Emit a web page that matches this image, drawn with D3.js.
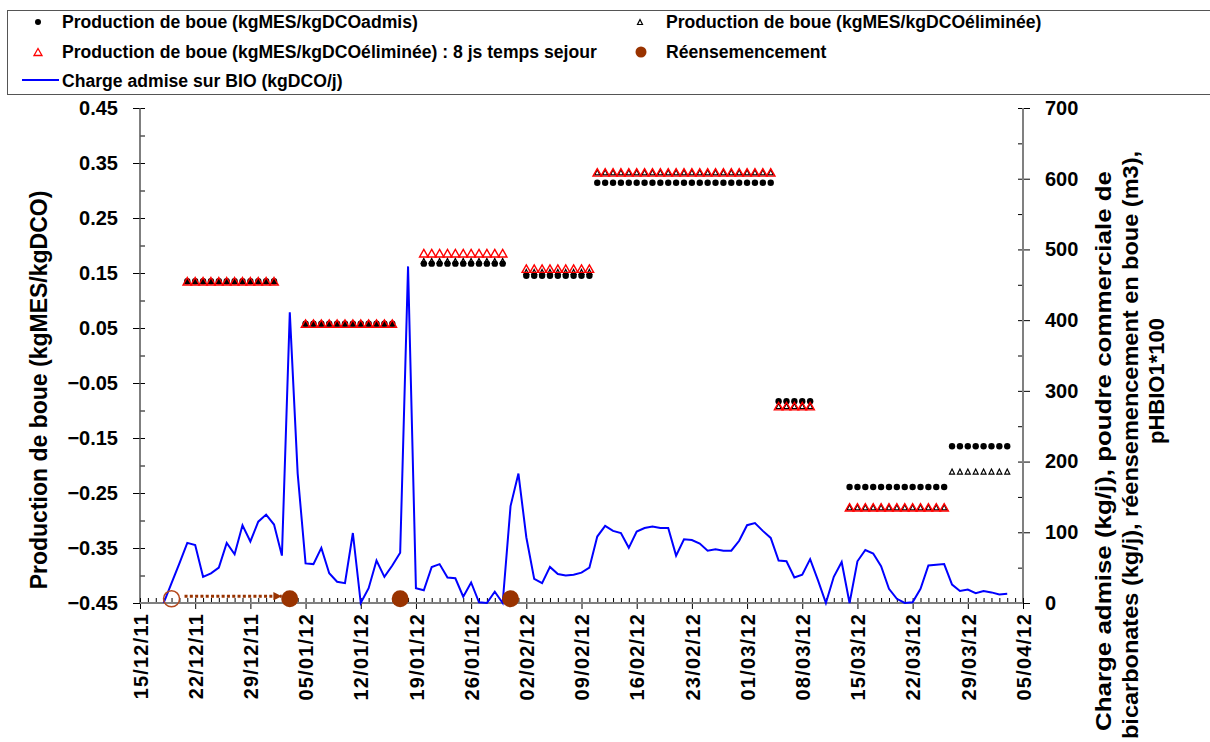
<!DOCTYPE html>
<html>
<head>
<meta charset="utf-8">
<script src="https://cdn.jsdelivr.net/npm/d3@7"></script>
<style>
  body { margin: 0; background: #fff; }
  text { font-family: "Liberation Sans", Arial, sans-serif; font-weight: bold; fill: #000; }
</style>
</head>
<body>
<svg id="chart" width="1210" height="742"></svg>
<script>
// ---- data ----
const xTickLabels = ["15/12/11","22/12/11","29/12/11","05/01/12","12/01/12","19/01/12","26/01/12",
  "02/02/12","09/02/12","16/02/12","23/02/12","01/03/12","08/03/12","15/03/12","22/03/12","29/03/12","05/04/12"];

// daily admitted load on BIO (kgDCO/j), first value on 18/12/11
const chargeStart = "18/12/11";
const chargeAdmise = [0, 28, 56, 85, 82, 37, 42, 50, 85, 69, 110, 87, 115, 125, 111, 67, 411, 183, 56, 55,
  78, 42, 30, 28, 99, 0, 21, 60, 37, 53, 71, 476, 21, 18, 51, 55, 36, 35, 9, 29,
  1, 0, 16, 0, 137, 183, 93, 34, 28, 51, 41, 39, 40, 43, 50, 94, 109, 102, 99, 78,
  101, 106, 108, 106, 106, 67, 90, 89, 84, 74, 76, 74, 74, 88, 110, 113, 102, 92, 60, 59,
  36, 40, 62, 32, 0, 37, 58, 0, 59, 75, 70, 52, 20, 6, 0, 1, 20, 53, 54, 55,
  26, 17, 19, 14, 17, 15, 12, 13];

// sludge production plateaus: [first day, last day, value] — one marker per day
const periodStart = ["21/12/11","05/01/12","20/01/12","02/02/12","11/02/12","05/03/12","14/03/12","27/03/12"];
const periodEnd   = ["01/01/12","16/01/12","30/01/12","10/02/12","04/03/12","09/03/12","26/03/12","03/04/12"];
const prodAdmis   = [0.135, 0.058, 0.167, 0.145, 0.314, -0.083, -0.239, -0.165];
const prodElim    = [0.135, 0.058, 0.172, 0.152, 0.333, -0.092, -0.276, -0.211];
const prodElim8j  = [0.135, 0.058, 0.186, 0.158, 0.333, -0.092, -0.276];

// reseeding events (right axis, m3)
const reensDates  = ["03/01/12","17/01/12","31/01/12"];
const reensValues = [6, 6, 6];
const reensPlannedDate = "19/12/11";
const reensPlannedValue = 6;

// ---- setup ----
const parse = d3.utcParse("%d/%m/%y");
const svg = d3.select("#chart");
const brown = "#993300";

const x = d3.scaleUtc().domain([parse("15/12/11"), parse("05/04/12")]).range([140, 1023]);
const yL = d3.scaleLinear().domain([-0.45, 0.45]).range([603, 108]);
const yR = d3.scaleLinear().domain([0, 700]).range([603, 108]);

// ---- legend ----
const legend = svg.append("g");
legend.append("rect").attr("x", 7.5).attr("y", 10.5).attr("width", 1210).attr("height", 84)
  .attr("fill", "#fff").attr("stroke", "#555").attr("stroke-width", 1);

function triPath(w, h) {
  return `M0,${-h / 2}L${w / 2},${h / 2}L${-w / 2},${h / 2}Z`;
}

const legendFont = 17.6;
legend.append("circle").attr("cx", 38).attr("cy", 22).attr("r", 3).attr("fill", "#000");
legend.append("text").attr("x", 62).attr("y", 28).attr("font-size", legendFont)
  .text("Production de boue (kgMES/kgDCOadmis)");
legend.append("path").attr("d", triPath(5, 5)).attr("transform", "translate(640,22)")
  .attr("fill", "none").attr("stroke", "#000").attr("stroke-width", 1.2);
legend.append("text").attr("x", 666).attr("y", 28).attr("font-size", legendFont)
  .text("Production de boue (kgMES/kgDCOéliminée)");
legend.append("path").attr("d", triPath(8, 7)).attr("transform", "translate(38,52)")
  .attr("fill", "none").attr("stroke", "#ff0000").attr("stroke-width", 1.3);
legend.append("text").attr("x", 62).attr("y", 57.5).attr("font-size", legendFont)
  .text("Production de boue (kgMES/kgDCOéliminée) : 8 js temps sejour");
legend.append("circle").attr("cx", 641).attr("cy", 52).attr("r", 5.5).attr("fill", brown);
legend.append("text").attr("x", 666).attr("y", 57.5).attr("font-size", legendFont)
  .text("Réensemencement");
legend.append("line").attr("x1", 22).attr("x2", 59).attr("y1", 80).attr("y2", 80)
  .attr("stroke", "#0000ff").attr("stroke-width", 2);
legend.append("text").attr("x", 62).attr("y", 86.5).attr("font-size", legendFont)
  .text("Charge admise sur BIO (kgDCO/j)");

// ---- axes ----
const axisGrey = "#808080";
const majorL = d3.range(0, 10).map(i => -0.45 + i * 0.1);
const minorL = d3.range(0, 19).map(i => -0.45 + i * 0.05);
const majorR = d3.range(0, 8).map(i => i * 100);
const minorR = d3.range(0, 15).map(i => i * 50);
const weekTicks = xTickLabels.map(parse);
const dayTicks = d3.utcDay.range(parse("15/12/11"), d3.utcDay.offset(parse("05/04/12"), 1));

function styleAxis(g) {
  g.select(".domain").remove();
  g.selectAll(".tick line").attr("stroke", "#000");
}

// left axis
svg.append("g").attr("transform", "translate(140,0)")
  .call(d3.axisRight(yL).tickValues(minorL).tickSize(5).tickFormat(""))
  .call(styleAxis);
svg.append("g").attr("transform", "translate(140,0)")
  .call(d3.axisLeft(yL).tickValues(majorL).tickSize(7).tickPadding(15).tickFormat(d3.format(".2f")))
  .call(styleAxis)
  .call(g => g.selectAll("text").attr("font-size", 20).attr("font-family", null));
svg.append("line").attr("x1", 140).attr("x2", 140).attr("y1", 108).attr("y2", 603)
  .attr("stroke", "#555").attr("stroke-width", 1.5);

// right axis
svg.append("g").attr("transform", "translate(1023,0)")
  .call(d3.axisLeft(yR).tickValues(minorR).tickSize(5).tickFormat(""))
  .call(styleAxis);
svg.append("g").attr("transform", "translate(1023,0)")
  .call(d3.axisRight(yR).tickValues(majorR).tickSize(7).tickPadding(15))
  .call(styleAxis)
  .call(g => g.selectAll("text").attr("font-size", 20).attr("font-family", null));
svg.append("line").attr("x1", 1023).attr("x2", 1023).attr("y1", 108).attr("y2", 603)
  .attr("stroke", axisGrey).attr("stroke-width", 2);

// bottom axis
svg.append("g").attr("transform", "translate(0,603)")
  .call(d3.axisTop(x).tickValues(dayTicks).tickSize(5).tickFormat(""))
  .call(styleAxis);
svg.append("g").attr("transform", "translate(0,603)")
  .call(d3.axisBottom(x).tickValues(weekTicks).tickSize(6)
    .tickFormat((d, i) => xTickLabels[i]))
  .call(styleAxis)
  .call(g => g.selectAll("text")
    .attr("font-size", 20).attr("font-family", null)
    .attr("letter-spacing", 1.2)
    .attr("text-anchor", "end")
    .attr("transform", "rotate(-90)")
    .attr("x", -10).attr("y", 0).attr("dy", "0.36em"));
svg.append("line").attr("x1", 140).attr("x2", 1023).attr("y1", 603).attr("y2", 603)
  .attr("stroke", axisGrey).attr("stroke-width", 2);

// axis titles
svg.append("text").attr("transform", "translate(47,390) rotate(-90)")
  .attr("text-anchor", "middle").attr("font-size", 23)
  .text("Production de boue (kgMES/kgDCO)");
const rightTitle = ["Charge admise (kg/j), poudre commerciale de",
  "bicarbonates (kg/j), réensemencement en boue (m3),", "pHBIO1*100"];
const rtX = [1111, 1138, 1164];
const rtStart = [731, 739, 444];
const rtLen = [560, 588, null];
rightTitle.forEach((t, i) => {
  const el = svg.append("text").attr("transform", `translate(${rtX[i]},${rtStart[i]}) rotate(-90)`)
    .attr("text-anchor", "start").attr("font-size", 22).text(t);
  if (rtLen[i]) el.attr("textLength", rtLen[i]).attr("lengthAdjust", "spacingAndGlyphs");
});

// ---- charge admise line ----
const chargeDates = chargeAdmise.map((v, i) => d3.utcDay.offset(parse(chargeStart), i));
svg.append("path")
  .datum(chargeAdmise.map((v, i) => [chargeDates[i], v]))
  .attr("fill", "none").attr("stroke", "#0000ff").attr("stroke-width", 2)
  .attr("stroke-linejoin", "miter")
  .attr("d", d3.line().x(d => x(d[0])).y(d => yR(d[1])));

// ---- sludge production markers ----
function expand(values) {
  const pts = [];
  values.forEach((v, i) => {
    d3.utcDay.range(parse(periodStart[i]), d3.utcDay.offset(parse(periodEnd[i]), 1))
      .forEach(d => pts.push([d, v]));
  });
  return pts;
}

svg.append("g").selectAll("circle").data(expand(prodAdmis)).join("circle")
  .attr("cx", d => x(d[0])).attr("cy", d => yL(d[1])).attr("r", 3.2).attr("fill", "#000");

svg.append("g").selectAll("path").data(expand(prodElim)).join("path")
  .attr("d", triPath(5, 5))
  .attr("transform", d => `translate(${x(d[0])},${yL(d[1])})`)
  .attr("fill", "none").attr("stroke", "#000").attr("stroke-width", 1.2);

svg.append("g").selectAll("path").data(expand(prodElim8j)).join("path")
  .attr("d", triPath(8.5, 7.5))
  .attr("transform", d => `translate(${x(d[0])},${yL(d[1])})`)
  .attr("fill", "none").attr("stroke", "#ff0000").attr("stroke-width", 1.4);

// ---- reseeding ----
svg.append("defs").append("marker")
  .attr("id", "arrowHead").attr("viewBox", "0 0 10 10").attr("refX", 10).attr("refY", 5)
  .attr("markerWidth", 3.2).attr("markerHeight", 3).attr("orient", "auto")
  .attr("markerUnits", "strokeWidth")
  .append("path").attr("d", "M0,0L10,5L0,10Z").attr("fill", brown);

const px = x(parse(reensPlannedDate)), py = yR(reensPlannedValue);
svg.append("circle").attr("cx", px).attr("cy", py).attr("r", 8)
  .attr("fill", "none").attr("stroke", "#b4481c").attr("stroke-width", 1.5);
svg.append("line")
  .attr("x1", px + 13).attr("y1", py - 2.5)
  .attr("x2", x(parse(reensDates[0])) - 8).attr("y2", py - 2.5)
  .attr("stroke", brown).attr("stroke-width", 2.8).attr("stroke-dasharray", "3,2.3")
  .attr("marker-end", "url(#arrowHead)");

svg.append("g").selectAll("circle").data(reensDates.map((d, i) => [parse(d), reensValues[i]])).join("circle")
  .attr("cx", d => x(d[0])).attr("cy", d => yR(d[1])).attr("r", 8.5).attr("fill", brown);
</script>
</body>
</html>
